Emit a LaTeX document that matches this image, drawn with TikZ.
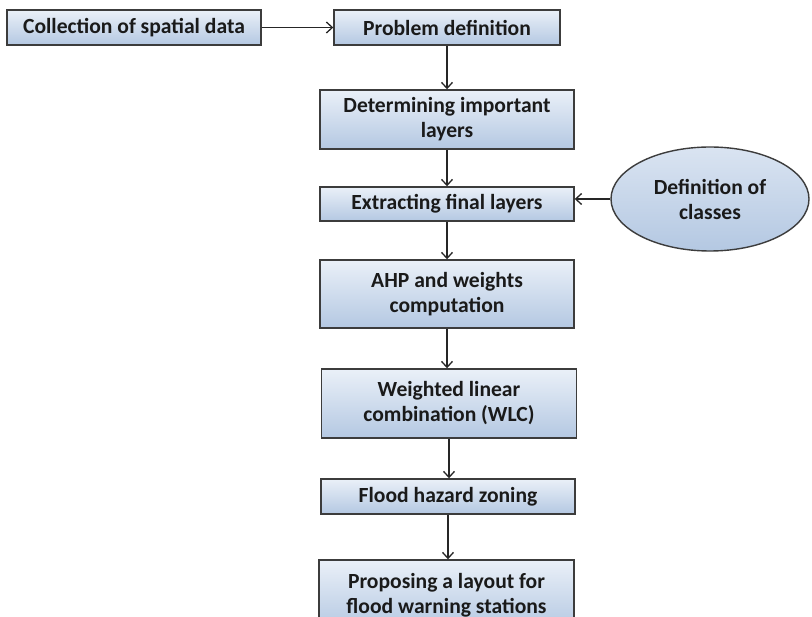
\documentclass[tikz,border=0pt]{standalone}
\usepackage{fontspec}
\setmainfont{Carlito}
\usetikzlibrary{arrows.meta,shapes.geometric}
\definecolor{boxtop}{HTML}{EAF0F8}
\definecolor{boxbot}{HTML}{B4C8E2}
\definecolor{edge}{HTML}{3C3C3C}
\definecolor{txt}{HTML}{1A1A1A}
\tikzset{
  flowbox/.style={draw=edge, line width=1.4pt, top color=boxtop, bottom color=boxbot,
    rectangle, inner sep=0pt, align=center, text=txt,
    font=\fontsize{21.6}{25}\selectfont\bfseries},
  flowell/.style={draw=edge, line width=1.4pt, top color=boxtop!70!boxbot, bottom color=boxbot,
    ellipse, inner sep=0pt, align=center, text=txt,
    font=\fontsize{21.6}{25}\selectfont\bfseries},
  flowarrow/.style={draw=black!85, line width=1.3pt, -{Straight Barb[length=6pt,width=11pt,line width=1.3pt]}}
}
\begin{document}
\begin{tikzpicture}[x=1pt,y=-1pt]
\useasboundingbox (0,0) rectangle (812,617);
\clip (0,0) rectangle (812,617);
\fill[white] (0,0) rectangle (812,617);
\node[flowbox, minimum width=254pt, minimum height=35pt] (b1) at (134,27.5) {Collection of spatial data};
\node[flowbox, minimum width=226pt, minimum height=35pt] (b2) at (447,27.5) {Problem definition};
\node[flowbox, minimum width=254pt, minimum height=59pt] (b3) at (447,119.5) {Determining important\\layers};
\node[flowbox, minimum width=254pt, minimum height=34pt] (b4) at (447,204) {Extracting final layers};
\node[flowell, minimum width=198pt, minimum height=104pt] (e) at (710,199) {Definition of\\classes};
\node[flowbox, minimum width=254pt, minimum height=68pt] (b5) at (447,294) {AHP and weights\\computation};
\node[flowbox, minimum width=255pt, minimum height=69pt] (b6) at (449,403.5) {Weighted linear\\combination (WLC)};
\node[flowbox, minimum width=254pt, minimum height=35pt] (b7) at (448,496.5) {Flood hazard zoning};
\node[flowbox, minimum width=255pt, minimum height=70pt] (b8) at (446.5,595) {Proposing a layout for\\flood warning stations};
\draw[flowarrow] (b1.east) -- (b2.west);
\draw[flowarrow] (b2.south) -- (b2.south |- b3.north);
\draw[flowarrow] (b3.south) -- (b3.south |- b4.north);
\draw[flowarrow] (e.west) -- (e.west -| b4.east);
\draw[flowarrow] (b4.south) -- (b4.south |- b5.north);
\draw[flowarrow] (b5.south) -- (b5.south |- b6.north);
\draw[flowarrow] (b6.south) -- (b6.south |- b7.north);
\draw[flowarrow] (b7.south) -- (b7.south |- b8.north);
\end{tikzpicture}
\end{document}
